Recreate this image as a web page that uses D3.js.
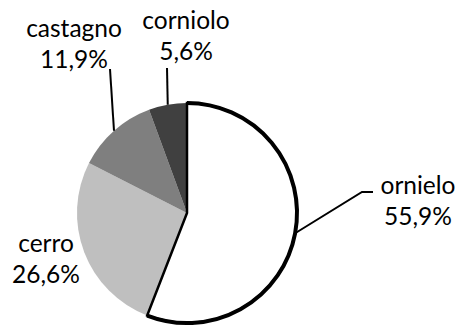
<!DOCTYPE html>
<html>
<head>
<meta charset="utf-8">
<script src="https://cdn.jsdelivr.net/npm/d3@7"></script>
<style>
  html, body { margin: 0; padding: 0; background: #fff; }
  svg { display: block; }
  text { font-family: Lato, "Open Sans", sans-serif; font-size: 24.5px; fill: #000; }
</style>
</head>
<body>
<svg id="chart" width="463" height="326"></svg>
<script>
// Species share of the stand
const categories = ["ornielo", "cerro", "castagno", "corniolo"];
const values = [55.9, 26.6, 11.9, 5.6];
const valueLabels = ["55,9%", "26,6%", "11,9%", "5,6%"];
const fills = ["#ffffff", "#bfbfbf", "#7f7f7f", "#404040"];

// label placement: text centre, first baseline, and leader-line end
const labelLayout = {
  ornielo:  { x: 418, y: 194, lead: [[362, 192], [373, 192]] },
  cerro:    { x: 46,  y: 252, lead: null },
  castagno: { x: 74,  y: 37,  lead: [[110, 69]] },
  corniolo: { x: 186, y: 29,  lead: [[167, 68]] }
};

const svg = d3.select("#chart");
const cx = 187, cy = 213, r = 110;
const g = svg.append("g").attr("transform", `translate(${cx},${cy})`);

const data = categories.map((c, i) => ({ name: c, value: values[i], label: valueLabels[i], fill: fills[i] }));
const pie = d3.pie().sort(null).value(d => d.value);
const arcs = pie(data);
const arc = d3.arc().innerRadius(0).outerRadius(r);

g.selectAll("path.slice")
  .data(arcs.slice(1))
  .join("path")
  .attr("class", "slice")
  .attr("d", arc)
  .attr("fill", d => d.data.fill);

// highlighted slice with heavy outline
const main = arcs[0];
g.append("path")
  .attr("d", arc(main))
  .attr("fill", main.data.fill)
  .attr("stroke", "#000")
  .attr("stroke-width", 2.5)
  .attr("stroke-linejoin", "miter");
const rim = d3.arc().innerRadius(r).outerRadius(r);
g.append("path")
  .attr("d", rim(main))
  .attr("fill", "none")
  .attr("stroke", "#000")
  .attr("stroke-width", 4);

// labels and leader lines
arcs.forEach(a => {
  const L = labelLayout[a.data.name];
  const mid = (a.startAngle + a.endAngle) / 2;
  if (L.lead) {
    const start = [cx + r * Math.sin(mid), cy - r * Math.cos(mid)];
    const pts = [start].concat(L.lead);
    svg.append("path")
      .attr("d", d3.line()(pts))
      .attr("fill", "none")
      .attr("stroke", "#000")
      .attr("stroke-width", 2);
  }
  const t = svg.append("text").attr("text-anchor", "middle");
  t.append("tspan").attr("x", L.x).attr("y", L.y).text(a.data.name);
  t.append("tspan").attr("x", L.x).attr("y", L.y + 31).text(a.data.label);
});
</script>
</body>
</html>
